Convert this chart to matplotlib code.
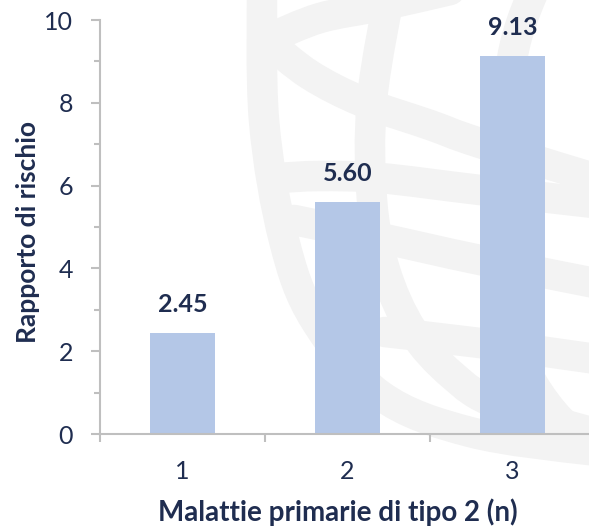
import matplotlib.pyplot as plt
from matplotlib.patches import PathPatch
from matplotlib.path import Path

# Chart data
categories = [1, 2, 3]
risk_ratio = [2.45, 5.60, 9.13]
value_labels = ["2.45", "5.60", "9.13"]
y_ticks = [0, 2, 4, 6, 8, 10]

TEXT = "#1F2D50"
BAR = "#B4C7E7"
AXIS = "#BFBFBF"
GLOBE = "#F3F3F3"

plt.rcParams["font.family"] = ["Lato", "DejaVu Sans"]


def smooth_path(points):
    """Catmull-Rom curve through the given points, as a cubic Bezier path."""
    pts = [points[0]] + list(points) + [points[-1]]
    verts = [points[0]]
    codes = [Path.MOVETO]
    for i in range(1, len(pts) - 2):
        p0, p1, p2, p3 = pts[i - 1], pts[i], pts[i + 1], pts[i + 2]
        c1 = (p1[0] + (p2[0] - p0[0]) / 6, p1[1] + (p2[1] - p0[1]) / 6)
        c2 = (p2[0] - (p3[0] - p1[0]) / 6, p2[1] - (p3[1] - p1[1]) / 6)
        verts += [c1, c2, p2]
        codes += [Path.CURVE4] * 3
    return Path(verts, codes)


fig = plt.figure(figsize=(5.89, 5.26), dpi=100)

# faint globe watermark behind the plot (pixel coordinates, origin top-left)
bg = fig.add_axes([0, 0, 1, 1], zorder=0)
bg.set_xlim(0, 589)
bg.set_ylim(526, 0)
bg.axis("off")
globe_lines = [
    [(262, -20), (264, 120), (284, 240), (315, 320), (380, 395), (470, 432), (589, 450), (640, 452)],
    [(392, -20), (372, 100), (372, 200), (385, 270), (412, 330), (452, 375), (500, 405), (620, 440)],
    [(538, -20), (512, 60), (505, 200), (510, 330), (560, 420), (620, 445)],
    [(270, 38), (320, 18), (380, 6), (450, -10)],
    [(268, 42), (310, 75), (363, 102), (430, 125), (480, 143), (620, 186)],
    [(278, 178), (320, 176), (380, 178), (480, 190), (620, 206)],
    [(294, 220), (380, 238), (480, 260), (620, 288)],
    [(385, 332), (480, 343), (589, 358), (630, 364)],
]
for pts in globe_lines:
    bg.add_patch(PathPatch(smooth_path(pts), facecolor="none", edgecolor=GLOBE,
                           lw=22, capstyle="round"))

ax = fig.add_axes([100 / 589, 92 / 526, 495 / 589, 414 / 526], zorder=1)
ax.set_facecolor("none")

ax.bar(categories, risk_ratio, width=0.395, color=BAR, zorder=2)
for x, v, lab in zip(categories, risk_ratio, value_labels):
    ax.annotate(lab, (x, v), xytext=(0, 15), textcoords="offset points",
                ha="center", va="baseline", fontsize=18, fontweight="bold",
                color=TEXT)

ax.set_xlim(0.5, 3.5)
ax.set_ylim(0, 10)

for side in ("top", "right"):
    ax.spines[side].set_visible(False)
for side in ("left", "bottom"):
    ax.spines[side].set_color(AXIS)
    ax.spines[side].set_linewidth(1.5)

# category boundaries carry the tick marks, labels sit at the centres
ax.set_xticks([0.5, 1.5, 2.5, 3.5])
ax.set_xticklabels([])
ax.set_xticks(categories, minor=True)
ax.set_xticklabels([str(c) for c in categories], minor=True)
ax.tick_params(axis="x", which="major", length=6, width=1.5, color=AXIS)
ax.tick_params(axis="x", which="minor", length=0, pad=19, labelsize=18,
               labelcolor=TEXT)

ax.set_yticks(y_ticks)
ax.set_yticks([1, 3, 5, 7, 9], minor=True)
ax.tick_params(axis="y", which="major", length=6.5, width=1.5, color=AXIS,
               pad=13, labelsize=18, labelcolor=TEXT)
ax.tick_params(axis="y", which="minor", length=4.3, width=1.5, color=AXIS)

fig.text(338 / 589, 1 - 521 / 526, "Malattie primarie di tipo 2 (n)",
         ha="center", va="baseline", fontsize=20, fontweight="bold", color=TEXT)
fig.text(28 / 589, 1 - 232 / 526, "Rapporto di rischio", rotation=90,
         ha="center", va="center", fontsize=19, fontweight="bold", color=TEXT)

fig.savefig("out.png", dpi=100)
